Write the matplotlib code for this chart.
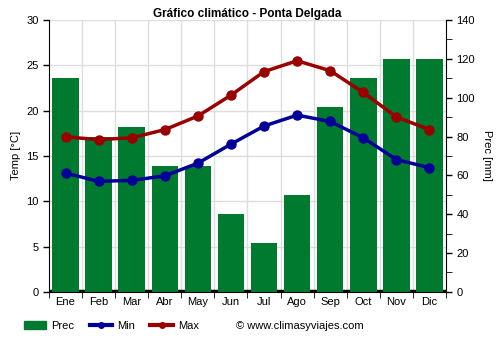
import matplotlib
matplotlib.use("Agg")
import matplotlib.pyplot as plt
from matplotlib.lines import Line2D
from matplotlib.patches import Patch
import numpy as np

plt.rcParams['font.family'] = ['Liberation Sans', 'DejaVu Sans']

months = ["Ene", "Feb", "Mar", "Abr", "May", "Jun", "Jul", "Ago", "Sep", "Oct", "Nov", "Dic"]
prec = [110, 80, 85, 65, 65, 40, 25, 50, 95, 110, 120, 120]
tmin = [13.1, 12.2, 12.3, 12.8, 14.2, 16.3, 18.3, 19.5, 18.8, 17.0, 14.6, 13.7]
tmax = [17.1, 16.8, 17.0, 17.9, 19.4, 21.7, 24.3, 25.5, 24.4, 22.0, 19.3, 17.9]

green = "#007a2e"
red = "#990000"
blue = "#000099"

fig = plt.figure(figsize=(5, 3.5), dpi=100)
ax = fig.add_axes([0.098, 0.166, 0.794, 0.777])
ax2 = ax.twinx()

x = np.arange(len(months))

ax2.set_zorder(0)
ax.set_zorder(1)
ax.patch.set_visible(False)

ax2.bar(x, prec, width=0.8, color=green, zorder=2)
ax2.axhline(0.6, color="black", lw=2.5, zorder=1)
ax2.set_ylim(0, 140)
ax2.set_yticks(np.arange(0, 141, 20))
ax2.set_yticks(np.arange(0, 141, 10), minor=True)
ax2.set_ylabel("Prec [mm]", rotation=-90, labelpad=12, fontsize=8)

ax.plot(x, tmin, color=blue, lw=2.5, marker="o", ms=6.5, zorder=3)
ax.plot(x, tmax, color=red, lw=2.5, marker="o", ms=6.5, zorder=3)
ax.set_ylim(0, 30)
ax.set_xlim(-0.5, 11.5)
ax.set_yticks(np.arange(0, 31, 5))
ax.set_xticks(x)
ax.set_xticklabels(months)
ax.set_ylabel("Temp [°C]", fontsize=8)

for v in np.arange(0.5, 11.5, 1):
    ax2.axvline(v, color="#dddddd", lw=1, zorder=0)
for t in np.arange(5, 31, 5):
    ax2.axhline(t * 140 / 30, color="#dddddd", lw=1, zorder=0)

for a in (ax, ax2):
    a.tick_params(labelsize=8, length=4, width=1, color="black")
    for s in a.spines.values():
        s.set_visible(False)
ax2.tick_params(which="minor", length=4)
ax.set_xticks(np.arange(-0.5, 12, 1), minor=True)
ax.tick_params(axis="x", which="major", length=0)
ax.tick_params(axis="x", which="minor", length=4)
ax.spines["left"].set_visible(True)
ax.spines["bottom"].set_visible(True)
ax2.spines["right"].set_visible(True)

ax.set_title("Gráfico climático - Ponta Delgada", fontsize=8.5, fontweight="bold", pad=-1)

handles = [
    Patch(color=green, label="Prec"),
    Line2D([0], [0], color=blue, lw=3, marker="o", ms=4, label="Min"),
    Line2D([0], [0], color=red, lw=3, marker="o", ms=4, label="Max"),
]
fig.legend(handles=handles, loc="center left", bbox_to_anchor=(0.048, 0.069), ncol=3,
           frameon=False, fontsize=8, handlelength=2.0, columnspacing=1.4,
           handletextpad=0.45, borderpad=0, borderaxespad=0)
fig.text(0.472, 0.069, "\u00a9 www.climasyviajes.com", fontsize=8, va="center")

fig.savefig("out.png", dpi=100)
